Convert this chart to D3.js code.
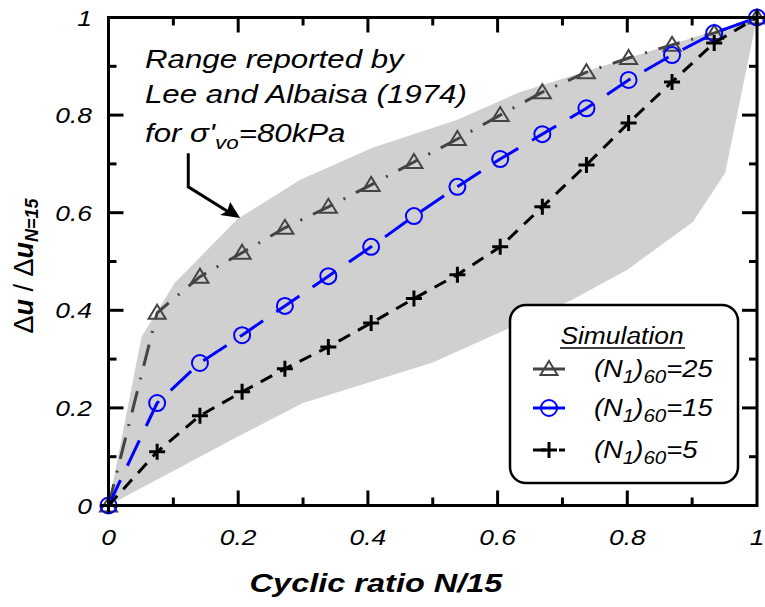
<!DOCTYPE html>
<html>
<head>
<meta charset="utf-8">
<script src="https://cdn.jsdelivr.net/npm/d3@7"></script>
<style>
  body { margin: 0; background: #fff; }
  text { font-family: "Liberation Sans", Arial, sans-serif; font-style: italic; }
</style>
</head>
<body>
<div id="chart"></div>
<script>
// cyclic ratio N/15 for the 16 simulation points
const cyclicRatio = [0, 0.075, 0.141, 0.206, 0.272, 0.339, 0.405, 0.471, 0.538, 0.604, 0.669, 0.737, 0.802, 0.869, 0.934, 1];
const n25 = [0, 0.395, 0.469, 0.518, 0.569, 0.612, 0.657, 0.704, 0.751, 0.800, 0.847, 0.888, 0.917, 0.944, 0.968, 1];
const n15 = [0, 0.210, 0.292, 0.349, 0.409, 0.470, 0.530, 0.593, 0.653, 0.710, 0.761, 0.814, 0.872, 0.923, 0.968, 1];
const n5  = [0, 0.110, 0.184, 0.233, 0.280, 0.325, 0.374, 0.424, 0.473, 0.530, 0.612, 0.698, 0.784, 0.868, 0.948, 1];

// Lee and Albaisa (1974) range, upper then lower boundary
const rangeUpper = [[0, 0], [0.051, 0.346], [0.102, 0.456], [0.199, 0.587], [0.295, 0.667], [0.407, 0.733], [0.537, 0.79], [0.634, 0.847], [1, 1]];
const rangeLower = [[1, 1], [0.951, 0.682], [0.901, 0.581], [0.8, 0.483], [0.716, 0.422], [0.5, 0.293], [0.3, 0.21], [0.199, 0.141], [0, 0]];

const tickValues = [0, 0.2, 0.4, 0.6, 0.8, 1];
const minorTicks = [0.1, 0.3, 0.5, 0.7, 0.9];
const tickLabels = ["0", "0.2", "0.4", "0.6", "0.8", "1"];

const svgWidth = 765, svgHeight = 607;
const plot = { left: 108.5, right: 757, top: 17.5, bottom: 505.5 };

const svg = d3.select("#chart").append("svg")
  .attr("width", svgWidth)
  .attr("height", svgHeight);

const x = d3.scaleLinear().domain([0, 1]).range([plot.left, plot.right]);
const y = d3.scaleLinear().domain([0, 1]).range([plot.bottom, plot.top]);

// the original figure is stretched sideways, so text gets a horizontal scale
function addText(parent, px, py, size, sx, anchor) {
  return parent.append("text")
    .attr("transform", `translate(${px},${py}) scale(${sx},1)`)
    .attr("text-anchor", anchor || "start")
    .attr("font-size", size);
}

// gray range band
svg.append("path")
  .attr("d", d3.line().x(d => x(d[0])).y(d => y(d[1]))(rangeUpper.concat(rangeLower)) + "Z")
  .attr("fill", "#d0d0d0");

const series = [
  { name: "25", values: n25, color: "#444444", dash: "22,12,2,12", marker: "triangle" },
  { name: "15", values: n15, color: "#0000ff", dash: "28,16", marker: "circle" },
  { name: "5",  values: n5,  color: "#000000", dash: "13,9", marker: "cross" }
];

const line = d3.line().x(d => x(d[0])).y(d => y(d[1]));

function drawMarker(g, type, color) {
  if (type === "triangle") {
    g.append("path").attr("d", "M0,-8L8.5,6L-8.5,6Z")
      .attr("fill", "none").attr("stroke", color).attr("stroke-width", 2);
  } else if (type === "circle") {
    g.append("circle").attr("r", 8)
      .attr("fill", "none").attr("stroke", color).attr("stroke-width", 2);
  } else {
    g.append("path").attr("d", "M-8,0H8M0,-8V8")
      .attr("stroke", color).attr("stroke-width", 3);
  }
}

series.forEach(s => {
  const pts = cyclicRatio.map((c, i) => [c, s.values[i]]);
  svg.append("path")
    .attr("d", line(pts))
    .attr("fill", "none")
    .attr("stroke", s.color)
    .attr("stroke-width", 3)
    .attr("stroke-dasharray", s.dash);
  pts.forEach(p => {
    const g = svg.append("g").attr("transform", `translate(${x(p[0])},${y(p[1])})`);
    drawMarker(g, s.marker, s.color);
  });
});

// frame and inward ticks
const axes = svg.append("g").attr("stroke", "#000").attr("stroke-width", 3);
axes.append("rect")
  .attr("x", plot.left).attr("y", plot.top)
  .attr("width", plot.right - plot.left).attr("height", plot.bottom - plot.top)
  .attr("fill", "none");

function ticks(values, len) {
  values.forEach(v => {
    axes.append("line").attr("x1", x(v)).attr("x2", x(v)).attr("y1", plot.bottom).attr("y2", plot.bottom - len);
    axes.append("line").attr("x1", x(v)).attr("x2", x(v)).attr("y1", plot.top).attr("y2", plot.top + len);
    axes.append("line").attr("y1", y(v)).attr("y2", y(v)).attr("x1", plot.left).attr("x2", plot.left + len);
    axes.append("line").attr("y1", y(v)).attr("y2", y(v)).attr("x1", plot.right).attr("x2", plot.right - len);
  });
}
ticks(tickValues.slice(1, -1), 15);
ticks(minorTicks, 8);

// tick labels
tickValues.forEach((v, i) => {
  addText(svg, x(v), 545, 22, 1.2, "middle").text(tickLabels[i]);
  addText(svg, 92, y(v) + 8, 22, 1.2, "end").text(tickLabels[i]);
});

// axis titles
addText(svg, 376, 592, 25, 1.3, "middle")
  .attr("font-weight", "bold")
  .text("Cyclic ratio N/15");

const yTitle = svg.append("text")
  .attr("transform", "translate(33,266) rotate(-90)")
  .attr("text-anchor", "middle")
  .attr("font-size", 27);
yTitle.append("tspan").attr("font-style", "normal").text("\u0394");
yTitle.append("tspan").attr("font-weight", "bold").text("u");
yTitle.append("tspan").attr("font-style", "normal").text(" / \u0394");
yTitle.append("tspan").attr("font-weight", "bold").text("u");
yTitle.append("tspan").attr("font-weight", "bold").attr("font-size", 18).attr("dy", 5).text("N=15");

// annotation
addText(svg, 145, 68, 25, 1.25).text("Range reported by");
addText(svg, 145, 103, 25, 1.25).text("Lee and Albaisa (1974)");
const t3 = addText(svg, 145, 142, 25, 1.25);
t3.append("tspan").text("for \u03c3'");
t3.append("tspan").attr("font-size", 18).attr("dy", 7).text("vo");
t3.append("tspan").attr("dy", -7).text("=80kPa");

const arrowPts = [[0.123, 0.722], [0.123, 0.653], [0.192, 0.596]];
svg.append("path")
  .attr("d", line(arrowPts))
  .attr("fill", "none").attr("stroke", "#000").attr("stroke-width", 3);
const tip = [x(0.203), y(0.589)];
svg.append("path")
  .attr("d", `M${tip[0]},${tip[1]}L${tip[0] - 20},${tip[1] - 3}L${tip[0] - 13},${tip[1] - 7}L${tip[0] - 10},${tip[1] - 16}Z`)
  .attr("fill", "#000");

// legend
const legend = svg.append("g");
legend.append("rect")
  .attr("x", 510).attr("y", 305).attr("width", 228).attr("height", 178)
  .attr("rx", 16).attr("fill", "#fff").attr("stroke", "#000").attr("stroke-width", 2.5);
addText(legend, 622, 344, 24, 1.1, "middle").text("Simulation");
legend.append("line").attr("x1", 560).attr("x2", 685).attr("y1", 348).attr("y2", 348)
  .attr("stroke", "#000").attr("stroke-width", 1.5);

const legendY = [369, 408, 450];
series.forEach((s, i) => {
  const ly = legendY[i];
  if (s.marker === "cross") {
    legend.append("line").attr("x1", 533).attr("x2", 546).attr("y1", ly).attr("y2", ly)
      .attr("stroke", s.color).attr("stroke-width", 3);
    legend.append("line").attr("x1", 559).attr("x2", 565).attr("y1", ly).attr("y2", ly)
      .attr("stroke", s.color).attr("stroke-width", 3);
  } else {
    legend.append("line").attr("x1", 533).attr("x2", 565).attr("y1", ly).attr("y2", ly)
      .attr("stroke", s.color).attr("stroke-width", 3);
  }
  const g = legend.append("g").attr("transform", `translate(549,${ly})`);
  drawMarker(g, s.marker, s.color);
  const t = addText(legend, 594, ly + 8, 24, 1.14);
  t.append("tspan").text("(N");
  t.append("tspan").attr("font-size", 18).attr("dy", 6).text("1");
  t.append("tspan").attr("dy", -6).text(")");
  t.append("tspan").attr("font-size", 18).attr("dy", 6).text("60");
  t.append("tspan").attr("dy", -6).text("=" + s.name);
});
</script>
</body>
</html>
